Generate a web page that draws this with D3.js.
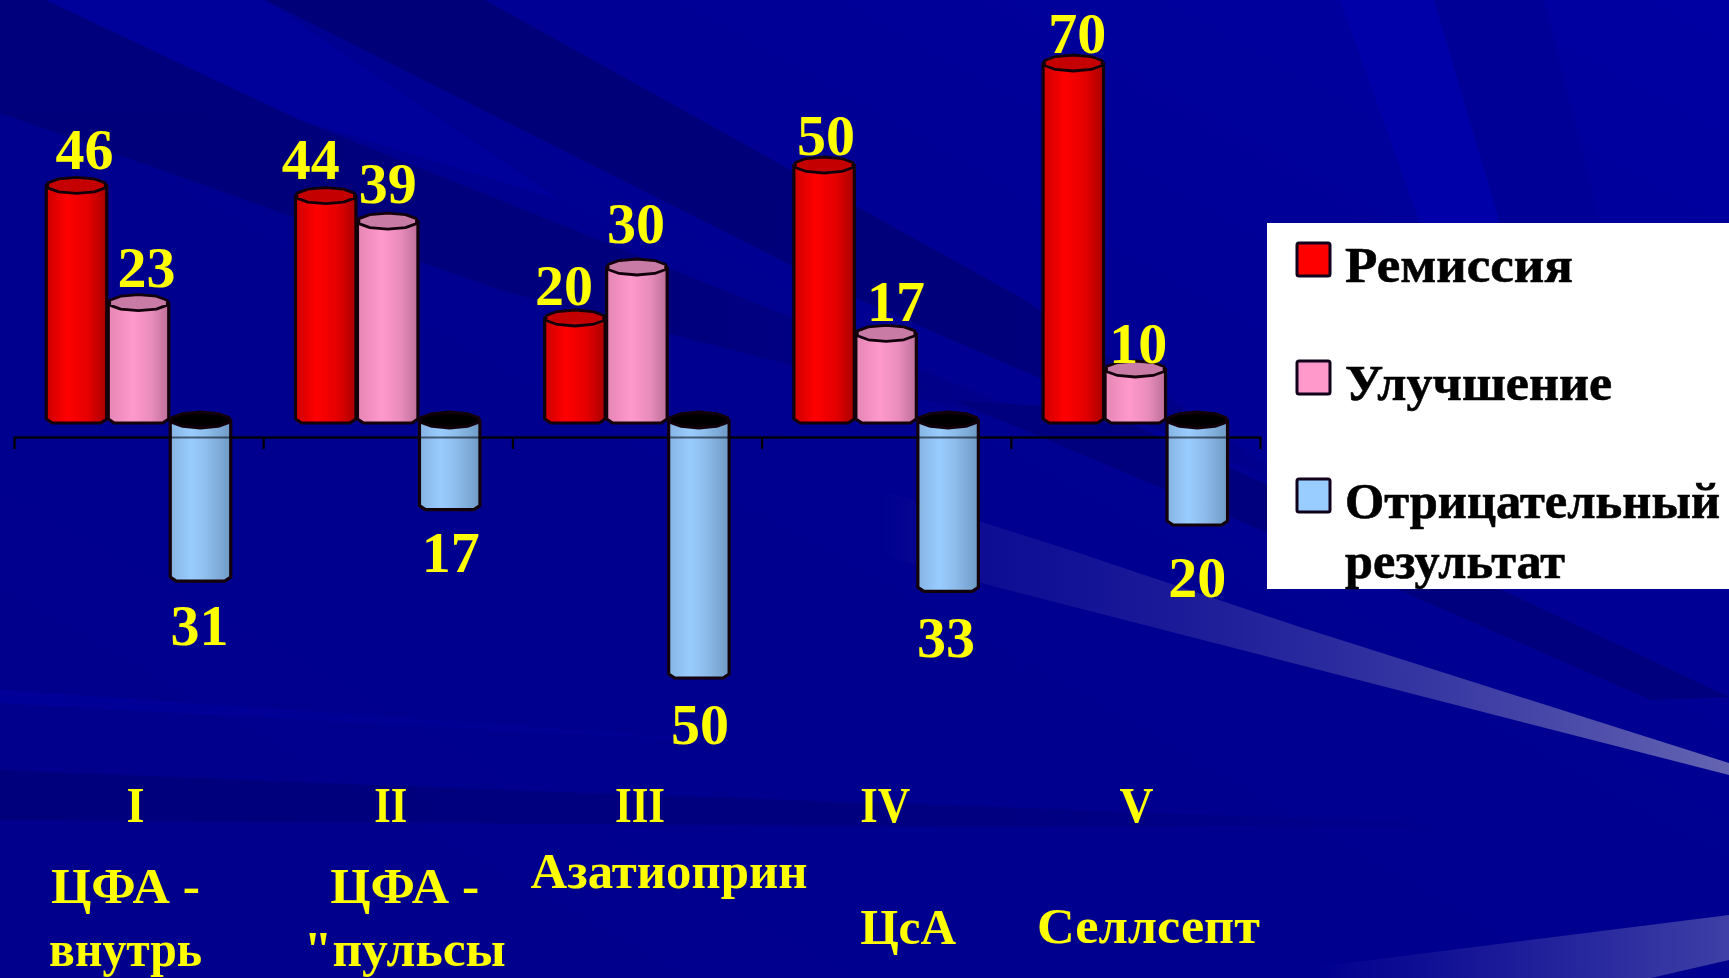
<!DOCTYPE html>
<html lang="ru">
<head>
<meta charset="utf-8">
<title>Результаты лечения</title>
<script src="https://cdn.jsdelivr.net/npm/d3@7/dist/d3.min.js"></script>
<style>
  html, body { margin: 0; padding: 0; background: #00008e; overflow: hidden; }
  svg { display: block; }
  text { font-family: "Liberation Serif", "Times New Roman", serif; font-weight: 700; }
</style>
</head>
<body>
<svg id="chart" width="1729" height="978"></svg>
<script>
// Chart data
const romanLabels = ["I", "II", "III", "IV", "V"];
const drugLabels = [["ЦФА -", "внутрь"], ["ЦФА -", "\"пульсы"], ["Азатиоприн"], ["ЦсА"], ["Селлсепт"]];
const seriesNames = ["Ремиссия", "Улучшение", "Отрицательный результат"];
const remission = [46, 44, 20, 50, 70];
const improvement = [23, 39, 30, 17, 10];
const negative = [-31, -17, -50, -33, -20];

// Hand-placed offsets of the value labels from their bars
const labelShiftX = [[8, -15, -11, 2, 4], [8, 0, -1, 10, 3], [-1, 1, 1, -2, 0]];
const labelShiftY = [[-16, -17, -13, -10, -10], [-16, -18, -24, -12, -6], [67, 65, 69, 69, 75]];

const svg = d3.select("#chart");
const W = 1729, H = 978;
const defs = svg.append("defs");

function hGradient(id, stops, x1, x2) {
  const g = defs.append("linearGradient").attr("id", id);
  if (x1 !== undefined) {
    g.attr("gradientUnits", "userSpaceOnUse").attr("x1", x1).attr("x2", x2).attr("y1", 0).attr("y2", 0);
  }
  stops.forEach(([o, c, a]) => g.append("stop").attr("offset", o).attr("stop-color", c).attr("stop-opacity", a === undefined ? 1 : a));
}

// Slide background: a deep blue field crossed by soft rays
const bg = defs.append("linearGradient").attr("id", "field")
  .attr("x1", 0).attr("y1", 1).attr("x2", 1).attr("y2", 0);
bg.append("stop").attr("offset", 0).attr("stop-color", "#00008c");
bg.append("stop").attr("offset", 0.55).attr("stop-color", "#000090");
bg.append("stop").attr("offset", 1).attr("stop-color", "#0000a2");
svg.append("rect").attr("width", W).attr("height", H).attr("fill", "url(#field)");

hGradient("rayFade", [[0, "#5050ac", 0], [0.2, "#3030a0", 0.35], [1, "#6a6ab4", 0.95]], 880, 1729);
hGradient("rayFadeLow", [[0, "#5050ac", 0], [1, "#5a5ab0", 0.7]], 1316, 1729);
hGradient("bandFade", [[0, "#00007a", 0.9], [0.65, "#00007a", 0.7], [1, "#00007a", 0]], 0, 1510);
hGradient("glowFade", [[0, "#0000a4", 0.5], [1, "#0000a4", 0]], 0, 900);
hGradient("darkFade", [[0, "#000078", 1], [0.7, "#000078", 0.9], [1, "#000078", 0]], 265, 1320);
hGradient("crossFade", [[0, "#00007a", 1], [0.6, "#00007a", 0.85], [1, "#00007a", 0]], 0, 1120);

const rays = [
  { fill: "url(#darkFade)", pts: [[265, 0], [485, 0], [1025, 300], [1320, 500], [860, 300]] },
  { fill: "url(#crossFade)", pts: [[0, 0], [300, 120], [500, 200], [1120, 450], [500, 290], [20, 120], [0, 113]] },
  { fill: "#00007c", pts: [[0, 0], [46, 0], [300, 120], [0, 113]] },
  { fill: "#00009a", pts: [[46, 0], [265, 0], [560, 200], [300, 120]] },
  { fill: "#00007e", pts: [[953, 400], [1268, 533], [1651, 700], [1729, 697], [1502, 590], [1100, 410]] },
  { fill: "#000096", pts: [[1434, 0], [1544, 0], [1600, 223], [1500, 223]] },
  { fill: "#0000a8", pts: [[1340, 0], [1434, 0], [1500, 223], [1420, 223]] },
  { fill: "url(#glowFade)", pts: [[0, 690], [900, 752], [0, 703]] },
  { fill: "url(#bandFade)", pts: [[0, 770], [500, 790], [1000, 807], [1510, 826], [1000, 827], [0, 820]] },
  { fill: "url(#rayFade)", pts: [[880, 490], [1070, 550], [1300, 627], [1729, 763], [1729, 775], [1000, 588], [880, 555]] },
  { fill: "url(#rayFadeLow)", pts: [[1316, 967], [1729, 915], [1729, 960], [1651, 978], [1316, 978]] }
];
const rayLine = d3.line().curve(d3.curveLinearClosed);
svg.append("g").selectAll("path").data(rays).join("path")
  .attr("d", d => rayLine(d.pts)).attr("fill", d => d.fill);

// Scales
const plotLeft = 14, plotRight = 1260;
const x = d3.scaleBand().domain(romanLabels).range([plotLeft, plotRight]);
const inner = d3.scaleBand().domain(seriesNames).range([31.5, 217.5]);
const y = d3.scaleLinear().domain([-50, 70]).range([675, 63]);
const axisY = 437;

// Category axis with ticks on the band boundaries
const edges = d3.scaleLinear().domain([0, romanLabels.length]).range([plotLeft, plotRight]);
const axis = d3.axisBottom(edges).ticks(romanLabels.length).tickSize(12).tickSizeOuter(0).tickFormat("");
function drawAxis(opacity) {
  const g = svg.append("g").attr("transform", `translate(0,${axisY})`).attr("opacity", opacity).call(axis);
  g.selectAll("path, line").attr("stroke", "#000").attr("stroke-width", 2);
}
drawAxis(1);

// Cylinder colours
const palette = [
  { id: "redBody", cap: "#c40000", swatch: "#ff0000",
    stops: [[0, "#cc0000"], [0.35, "#ff0000"], [0.7, "#e40000"], [1, "#a80000"]] },
  { id: "pinkBody", cap: "#c87ba4", swatch: "#ff99cc",
    stops: [[0, "#e486b4"], [0.4, "#ff99cc"], [0.72, "#e88cbb"], [1, "#bb6f98"]] },
  { id: "blueBody", cap: "#000000", swatch: "#99ccff",
    stops: [[0, "#86b4e2"], [0.35, "#99ccff"], [0.62, "#8dbcea"], [1, "#6f9ac6"]] }
];
palette.forEach(p => hGradient(p.id, p.stops));

const outline = "#12000a";
const capRy = 8, chamfer = 3;
const closedLine = d3.line().curve(d3.curveLinearClosed);

// The faceted ellipse that closes each cylinder
function capPoints(cx, cy, rx) {
  return d3.range(10).map(i => {
    const a = (i + 0.5) / 10 * 2 * Math.PI;
    return [cx + rx * Math.cos(a), cy + capRy * Math.sin(a)];
  });
}

const seriesValues = [remission, improvement, negative];
const bars = seriesValues.flatMap((values, s) => values.map((v, i) => ({ s, i, v })));

const barW = inner.bandwidth() - 1.5;
const barG = svg.append("g");
bars.forEach(d => {
  const left = x(romanLabels[d.i]) + inner(seriesNames[d.s]) + 0.75;
  const cx = left + barW / 2, right = left + barW;
  const top = y(Math.max(d.v, 0)), bottom = y(Math.min(d.v, 0));
  const p = palette[d.s];
  const g = barG.append("g");
  const body = [
    [left, top], [right, top], [right, bottom - chamfer + 2], [right - 6, bottom + chamfer],
    [left + 6, bottom + chamfer], [left, bottom - chamfer + 2]
  ];
  g.append("path").attr("d", closedLine(body))
    .attr("fill", `url(#${p.id})`).attr("stroke", outline).attr("stroke-width", 3.2).attr("stroke-linejoin", "round");
  g.append("path").attr("d", closedLine(capPoints(cx, top, barW / 2)))
    .attr("fill", p.cap).attr("stroke", outline).attr("stroke-width", 2.8).attr("stroke-linejoin", "round");
});

// The axis line shows faintly through the bars that cross it
drawAxis(0.55);

// Value labels
const gold = "#ffff00";
svg.append("g").selectAll("text").data(bars).join("text")
  .attr("x", d => x(romanLabels[d.i]) + inner(seriesNames[d.s]) + inner.bandwidth() / 2 + labelShiftX[d.s][d.i])
  .attr("y", d => y(d.v) + labelShiftY[d.s][d.i])
  .attr("text-anchor", "middle").attr("font-size", 58).attr("fill", gold)
  .text(d => Math.abs(d.v));

// Category captions below the chart
const romanShift = [-3, 3, 3, -1, 1];
const romanWidth = [18, 33, 50, 50, 34];
svg.append("g").selectAll("text").data(romanLabels).join("text")
  .attr("x", (d, i) => x(d) + x.bandwidth() / 2 + romanShift[i]).attr("y", 822)
  .attr("text-anchor", "middle").attr("font-size", 50).attr("fill", gold)
  .attr("textLength", (d, i) => romanWidth[i]).attr("lengthAdjust", "spacingAndGlyphs")
  .text(d => d);

const captionShift = [-13, 17, 32, 22, 13];
const captionBase = [[903, 966], [903, 966], [888], [944], [943]];
const captionWidth = [[149, 153], [149, 202], [277], [96], [223]];
drugLabels.forEach((lines, i) => {
  lines.forEach((line, j) => {
    svg.append("text")
      .attr("x", x(romanLabels[i]) + x.bandwidth() / 2 + captionShift[i]).attr("y", captionBase[i][j])
      .attr("text-anchor", "middle").attr("font-size", 50).attr("fill", gold)
      .attr("textLength", captionWidth[i][j]).attr("lengthAdjust", "spacingAndGlyphs")
      .text(line);
  });
});

// Legend
const legend = svg.append("g");
legend.append("rect").attr("x", 1267).attr("y", 223).attr("width", W - 1267).attr("height", 366).attr("fill", "#fff");
const legendSwatchY = [243, 361, 479];
const legendLines = [[["Ремиссия", 282, 228]], [["Улучшение", 400, 267]], [["Отрицательный", 518, 375], ["результат", 578, 220]]];
seriesNames.forEach((name, i) => {
  legend.append("rect").attr("x", 1297).attr("y", legendSwatchY[i]).attr("width", 33).attr("height", 33)
    .attr("fill", palette[i].swatch).attr("stroke", "#10001a").attr("stroke-width", 3).attr("rx", 2);
  legendLines[i].forEach(([line, base, width]) => {
    legend.append("text").attr("x", 1345).attr("y", base).attr("font-size", 50).attr("fill", "#000")
      .attr("stroke", "#000").attr("stroke-width", 0.6)
      .attr("textLength", width).attr("lengthAdjust", "spacingAndGlyphs").text(line);
  });
});
</script>
</body>
</html>
